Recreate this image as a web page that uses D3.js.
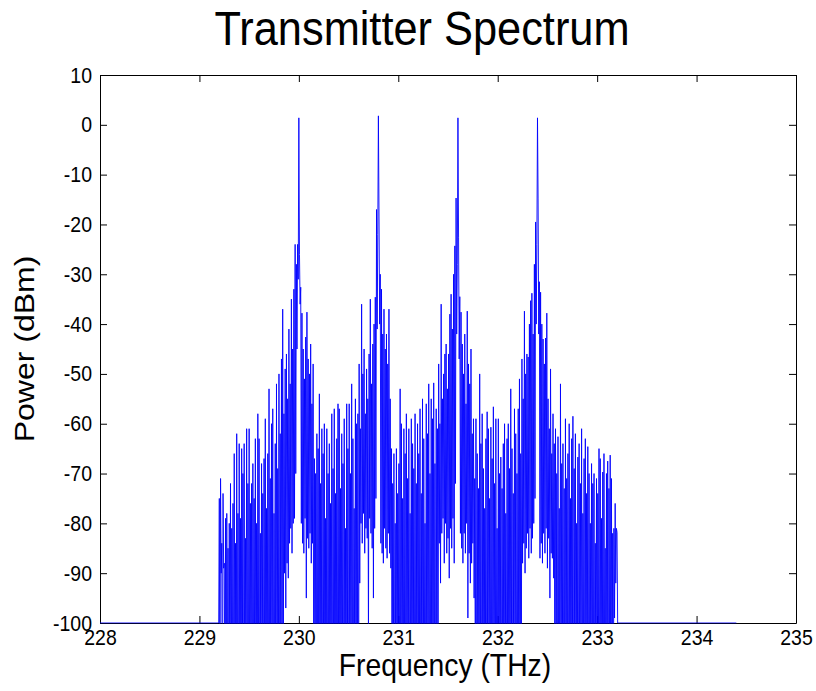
<!DOCTYPE html>
<html>
<head>
<meta charset="utf-8">
<script src="https://cdn.jsdelivr.net/npm/d3@7"></script>
<style>
body { margin: 0; background: #fff; }
svg text { font-family: Arial, "Liberation Sans", Helvetica, sans-serif; fill: #000; }
.axis path, .axis line { stroke: #000; stroke-width: 1; }
.axis.x text { transform-box: fill-box; transform-origin: 50% 0; transform: scaleX(0.885); }
.axis.y text { transform-box: fill-box; transform-origin: 100% 50%; transform: scaleX(0.885); }
.label { transform-box: fill-box; transform-origin: 50% 50%; }
</style>
</head>
<body>
<div id="graph"></div>
<script>
var xTicks = [228, 229, 230, 231, 232, 233, 234, 235];
var yTicks = [-100, -90, -80, -70, -60, -50, -40, -30, -20, -10, 0, 10];

// spectrum samples: 229.2 THz .. 233.2 THz every 0.00625 THz, one row per 0.1 THz
// (values below -100 dBm run off the bottom of the axes)
var freqStart = 229.2;
var freqStep = 0.00625;
var powerDbm = [
  -75, -128, -71, -90, -84, -140, -74, -89, -88, -118, -79, -150, -78, -122, -85, -135,
  -80, -115, -72, -142, -81, -120, -76, -131, -66, -110, -84, -148, -62, -125, -78, -137,
  -64, -119, -79, -144, -65, -113, -70, -152, -64, -127, -83, -116, -61, -140, -72, -123,
  -61, -134, -76, -111, -72, -146, -68, -121, -75, -117, -63, -139, -80, -128, -58, -114,
  -63, -149, -82, -124, -68, -112, -74, -136, -67, -120, -59, -143, -77, -117, -66, -130,
  -53, -125, -71, -141, -60, -113, -57, -133, -78, -119, -64, -147, -52, -122, -69, -115,
  -50, -138, -62, -112, -47, -126, -37, -108, -58, -90, -49, -97, -46, -88, -55, -91,
  -41, -84, -52, -81, -35, -86, -45, -80, -33, -79, -24, -70, -28, -45, -24, -31,
  1.4, -26, -36, -32.6, -80, -37.8, -84, -45, -86, -51, -79, -42.6, -95, -37.6, -83, -47,
  -85, -50, -82, -44, -88, -56, -84, -48, -125, -67, -113, -70, -140, -62, -118, -65,
  -129, -54, -146, -72, -111, -61, -137, -66, -120, -60, -152, -79, -116, -61, -133, -70,
  -124, -64, -143, -76, -112, -58, -139, -69, -118, -57, -148, -74, -121, -63, -131, -56,
  -114, -57, -136, -73, -127, -62, -115, -68, -144, -59, -119, -81, -133, -56, -112, -65,
  -150, -56, -123, -70, -117, -52, -141, -63, -126, -77, -113, -55, -138, -60, -121, -58,
  -146, -48, -92, -61, -80, -36, -84, -50, -78, -45, -86, -58, -81, -49, -83, -55,
  -104, -46, -79, -35, -82, -52, -85, -44, -95, -40, -81, -34.6, -75, -17, -41, -22,
  1.8, -18.5, -40, -30, -84, -33, -86, -42, -88, -37, -81, -45, -85, -42, -87, -48,
  -82, -37, -86, -55, -89, -65, -130, -72, -115, -66, -142, -80, -119, -65, -136, -74,
  -111, -68, -125, -53, -147, -60, -118, -75, -133, -61, -112, -66, -150, -58, -124, -71,
  -117, -61, -139, -78, -121, -59, -144, -64, -113, -69, -128, -58, -136, -72, -119, -60,
  -145, -66, -114, -57, -131, -74, -122, -55, -148, -63, -116, -80, -127, -56, -140, -62,
  -112, -52, -135, -70, -120, -55, -143, -59, -118, -51.8, -129, -68, -151, -57, -108, -61,
  -115, -48, -84, -60, -92, -36, -82, -55, -79, -50, -88, -46, -80, -44, -86, -53,
  -83, -46, -91, -38, -81, -34, -85, -41, -79, -30, -88, -24.3, -72, -14.7, -42, -28,
  1.4, -22.7, -47, -34.5, -82, -37.6, -85, -44, -88, -50, -82, -42, -86, -56, -80, -37.4,
  -99, -48, -86, -52, -92, -45, -88, -62, -84, -59, -95, -71, -118, -59, -140, -66,
  -113, -73, -131, -50, -124, -64, -147, -58, -116, -69, -135, -77, -119, -63, -142, -57.6,
  -128, -61, -110, -75, -139, -60.7, -121, -67, -149, -56.6, -117, -72, -133, -59, -114, -81,
  -126, -59, -145, -70, -112, -66.7, -137, -73, -120, -64, -151, -60, -118, -78, -130, -63,
  -115, -60, -141, -69, -123, -53, -110, -65, -146, -74, -127, -57, -113, -62, -138, -70,
  -119, -57, -134, -51, -148, -66, -112, -47, -88, -55, -84, -37.4, -90, -50, -85, -46,
  -82, -46.6, -87, -40, -81, -35.3, -86, -33.8, -83, -42, -80, -28, -75, -19.5, -40, -24,
  1.4, -14.7, -42, -31.5, -87, -33.6, -84, -40, -88, -43, -82, -48, -86, -42.8, -81, -37.8,
  -89, -55, -83, -61, -95, -49, -86, -66, -87, -58, -91, -64, -125, -61, -113, -70,
  -137, -62.6, -118, -77, -144, -52, -120, -68, -111, -64, -132, -73, -149, -59, -116, -71,
  -127, -66, -140, -60, -114, -75, -135, -63, -121, -58.5, -146, -69, -112, -62, -131, -80,
  -119, -66.7, -142, -64, -125, -72, -110, -61, -138, -78, -117, -67, -150, -63, -123, -74,
  -113, -64.6, -136, -70, -128, -80, -115, -68, -147, -72, -120, -70, -131, -84, -112, -71,
  -145, -74, -118, -65, -134, -67, -111, -79, -141, -69.7, -124, -66, -116, -85, -139, -70,
  -121, -67.5, -148, -73, -114, -66.3, -130, -71, -118, -82, -127, -81, -99, -76, -92, -81,
  -81.8
];

// noise floor outside the band
var floorLeft = [228.0, 229.19375];
var floorRight = [233.20625, 234.4];
var floorDbm = -100;

var width = 816, height = 691;
var margin = { top: 75, left: 100, bottom: 68, right: 20 };
var chartWidth = width - (margin.left + margin.right);
var chartHeight = height - (margin.top + margin.bottom);

var svg = d3.select("#graph").append("svg")
  .attr("width", width)
  .attr("height", height);

var xScale = d3.scaleLinear().domain([228, 235]).range([0, chartWidth]);
var yScale = d3.scaleLinear().domain([-100, 10]).range([chartHeight, 0]);

var points = [];
floorLeft.forEach(function(f) { points.push({ f: f, p: floorDbm }); });
powerDbm.forEach(function(p, i) { points.push({ f: freqStart + i * freqStep, p: p }); });
floorRight.forEach(function(f) { points.push({ f: f, p: floorDbm }); });

var axisLayer = svg.append("g").attr("transform", "translate(" + [margin.left, margin.top] + ")");
var chartLayer = svg.append("g").attr("transform", "translate(" + [margin.left, margin.top] + ")");

svg.append("defs").append("clipPath").attr("id", "plotClip")
  .append("rect")
  .attr("x", 0).attr("y", -1)
  .attr("width", chartWidth).attr("height", chartHeight + 1.5);

var plain = function(d) { return String(d); };

function styleAxis(g) {
  g.selectAll("text").style("font-size", "22px").attr("fill", "#000");
}

axisLayer.append("g")
  .attr("class", "axis x")
  .attr("transform", "translate(0," + chartHeight + ")")
  .call(d3.axisBottom(xScale).tickValues(xTicks).tickFormat(plain)
    .tickSizeInner(-7).tickSizeOuter(0).tickPadding(6))
  .call(styleAxis);

axisLayer.append("g")
  .attr("class", "axis x")
  .call(d3.axisTop(xScale).tickValues(xTicks).tickFormat("")
    .tickSizeInner(-7).tickSizeOuter(0));

axisLayer.append("g")
  .attr("class", "axis y")
  .call(d3.axisLeft(yScale).tickValues(yTicks).tickFormat(plain)
    .tickSizeInner(-7).tickSizeOuter(0).tickPadding(8))
  .call(styleAxis);

axisLayer.append("g")
  .attr("class", "axis y")
  .attr("transform", "translate(" + chartWidth + ",0)")
  .call(d3.axisRight(yScale).tickValues(yTicks).tickFormat("")
    .tickSizeInner(-7).tickSizeOuter(0));

var line = d3.line()
  .x(function(d) { return xScale(d.f); })
  .y(function(d) { return yScale(d.p); });

chartLayer.append("path")
  .datum(points)
  .attr("clip-path", "url(#plotClip)")
  .attr("fill", "none")
  .attr("stroke", "#0000ff")
  .attr("stroke-width", 0.9)
  .attr("stroke-linejoin", "miter")
  .attr("stroke-miterlimit", 2)
  .attr("d", line);

svg.append("text")
  .attr("class", "label")
  .attr("x", 422).attr("y", 45)
  .attr("text-anchor", "middle")
  .style("font-size", "49px")
  .style("transform", "scaleX(0.885)")
  .text("Transmitter Spectrum");

svg.append("text")
  .attr("class", "label")
  .attr("x", 445).attr("y", 676)
  .attr("text-anchor", "middle")
  .style("font-size", "32px")
  .style("transform", "scaleX(0.885)")
  .text("Frequency (THz)");

svg.append("text")
  .attr("transform", "translate(34," + (margin.top + chartHeight / 2) + ") scale(0.885,1) rotate(-90)")
  .attr("text-anchor", "middle")
  .style("font-size", "32px")
  .text("Power (dBm)");
</script>
</body>
</html>
